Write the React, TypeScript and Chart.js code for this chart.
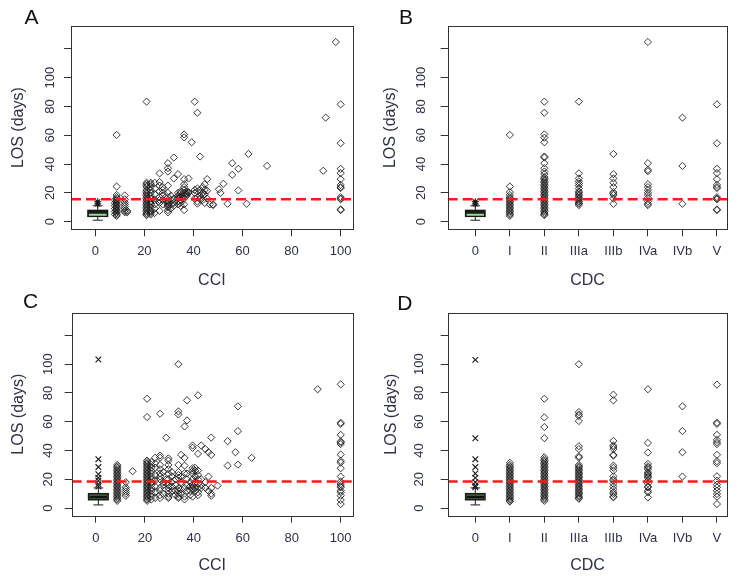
import React, { useEffect, useRef } from 'react';
import { Chart, registerables } from 'chart.js';

Chart.register(...registerables);

const FONT = '"Liberation Sans", Arial, Helvetica, sans-serif';
const TEXT = '#2d3047';
const AXIS = '#333333';

// ---------- Data: panel A (CCI, first cohort) ----------
const A_CCI = [8.0, 8.7, 12.0, 13.0, 20.9, 22.6, 24.2, 26.2, 27.5, 29.6, 30.8, 32.0, 33.7, 34.8, 36.2, 37.2, 38.0, 39.3, 40.5, 41.6, 42.7, 43.8, 44.6, 45.6, 46.7, 48.0, 50.4, 51.0, 52.2, 53.9, 55.8, 58.3, 61.7, 62.4, 70.0, 92.9, 93.9, 98.0, 100];
const A_LOS_BY_CCI: number[][] = [
  [5, 7, 9, 11, 13, 15],
  [4, 5, 6, 7, 8, 9, 10, 11, 12, 13, 14, 15, 16, 17, 18.5, 24.4, 60.2],
  [6.5, 7.5, 9, 10.5, 12, 13.5, 15.5, 18.2],
  [6.5, 7.5],
  [4.5, 5, 6, 7, 8, 9, 10, 11, 12, 13, 14, 15, 16, 17, 18, 19, 20, 21, 22, 24, 25, 26, 27, 83.3],
  [5, 6, 7, 8, 10, 12, 13, 14, 16, 18, 20, 22, 24, 26, 27],
  [6, 9, 12, 15, 19, 23, 27],
  [7.5, 13, 15, 17, 21, 25, 27.5, 33.5],
  [12, 15, 18, 20, 22, 24],
  [6.5, 8, 10, 11, 12, 13, 14, 15, 17, 20, 25, 34.8, 37.1, 40.6],
  [9, 12, 15, 18],
  [11, 13, 16, 30, 44.5],
  [12, 14, 16, 17, 18, 20, 33],
  [11, 13, 15, 17, 18, 20, 21],
  [8, 12, 16, 18, 20, 22, 24, 26, 29.5, 58.5, 60.5],
  [18, 19, 20, 21],
  [20, 20.5, 30],
  [55.1],
  [16, 20, 22, 83.3],
  [12.5, 14, 17, 21, 23, 75.6],
  [16, 18, 22, 45.2],
  [15, 18, 20, 24],
  [13, 19, 22, 26],
  [16, 21.5, 29.5],
  [12],
  [11.5, 12],
  [22.5],
  [20],
  [26.3],
  [12.4],
  [32.5, 40.6],
  [21.7, 36.7],
  [12.4],
  [47],
  [38.7],
  [35.3],
  [72.2],
  [124.7],
  [8, 8.5, 15.5, 16, 17, 23.3, 24, 25.5, 29.5, 33.7, 36.7, 54.4, 81.4],
];

// ---------- Data: panel B (CDC, first cohort) ----------
const CDC_LABELS = ['0', 'I', 'II', 'IIIa', 'IIIb', 'IVa', 'IVb', 'V'];
const B_LOS_BY_CDC: number[][] = [
  [],
  [4, 5, 6, 7, 8, 9, 10, 11, 12, 13, 14, 15, 16, 17, 18.5, 20.5, 24.4, 60.2],
  [4.5, 5, 6, 7, 8, 9, 10, 11, 12, 13, 14, 15, 16, 17, 18, 19, 20, 21, 22, 23, 24, 25, 26, 27, 28, 29, 30, 31, 33, 34.8, 37.1, 40.6, 44.5, 45.2, 55.1, 58.3, 60.6, 75.6, 83.3],
  [11.5, 12.4, 13, 14, 15, 16, 17, 18, 19, 20, 21, 23, 25, 26.5, 28, 30, 33.5, 83.3],
  [12.4, 16, 18.5, 19.5, 20.5, 24, 27, 30, 33, 47],
  [11.5, 12.4, 14, 16.5, 18.5, 20, 22, 24, 26, 35, 36, 40.6, 124.7],
  [12.4, 38.7, 72.2],
  [8, 8.5, 15.5, 16, 17, 23.3, 24, 25.5, 29.5, 33.7, 36.7, 54.4, 81.4],
];

// ---------- Data: panel C (CCI, second cohort) ----------
const C_CCI = [8.7, 12.2, 15.0, 20.9, 22.6, 24.2, 26.2, 27.5, 28.7, 29.6, 31.0, 32.5, 33.7, 34.8, 36.2, 37.2, 38.5, 39.5, 40.5, 41.7, 43.0, 44.7, 46.0, 47.1, 49.7, 53.8, 57.0, 58.0, 63.6, 90.6, 100];
const C_LOS_BY_CCI: number[][] = [
  [5, 6, 7, 8, 9, 10, 11, 12, 13, 14, 15, 16, 17, 18, 19, 20, 21, 22, 23, 24, 25, 26, 27, 28, 29, 30],
  [8.5, 10, 11.5, 13, 14.5, 18],
  [25.6],
  [5, 6, 7, 8, 9, 10, 11, 12, 13, 14, 15, 16, 17, 18, 19, 20, 21, 22, 23, 24, 25, 26, 27, 28, 29, 30, 31, 32, 33, 63.3, 76],
  [6, 8, 10, 12, 14, 16, 18, 20, 22, 24, 26, 28, 30, 32],
  [7, 11, 15, 19, 23, 28, 31, 35],
  [7, 9, 12, 14, 20, 22, 24, 27, 30, 35, 36.5, 65.6],
  [10, 16, 18, 25],
  [17, 20, 48.9],
  [7, 8, 10, 12, 14, 16, 20, 24, 27, 30, 33, 34.5],
  [12, 15, 18, 22, 25],
  [9, 12, 16, 20],
  [7, 8, 10, 12, 14, 21, 23, 25, 30, 65.1, 67.2, 100],
  [10, 13, 18, 22, 37],
  [6, 8, 14, 24.2, 29.5, 34.9, 56.7],
  [12, 16, 20, 24, 60.9, 74.9],
  [9, 12, 15, 18],
  [8, 13, 14, 16, 20, 24, 26, 27.7, 41.9, 43.5],
  [12, 14, 18, 22, 26, 28],
  [9, 11, 14, 17, 20, 23, 26, 37.7, 78.4],
  [14, 16, 20, 43.5],
  [14, 18, 41],
  [12, 21.9, 38.8],
  [8.5, 10, 14, 37, 49],
  [15.6],
  [29.5, 46.5],
  [38.8],
  [30.2, 53.5, 70.7],
  [34.9],
  [82.6],
  [2.8, 5.6, 8.6, 10.9, 12.1, 14.4, 15.3, 16.7, 18.4, 21.9, 27.7, 31.6, 32.8, 37.2, 44.5, 45.6, 46.3, 50.9, 58.5, 59.3, 86],
];

// ---------- Data: panel D (CDC, second cohort) ----------
const D_LOS_BY_CDC: number[][] = [
  [],
  [4.5, 5, 6, 7, 8, 9, 10, 11, 12, 13, 14, 15, 16, 17, 18, 19, 20, 21, 22, 23, 24, 25, 26, 27, 28, 29, 30, 31.5],
  [5, 6, 7, 8, 9, 10, 11, 12, 13, 14, 15, 16, 17, 18, 19, 20, 21, 22, 23, 24, 25, 26, 27, 28, 29, 30, 31, 32, 33, 34, 35.3, 48.6, 56.3, 63, 76],
  [6.5, 7, 8, 9, 10, 11, 12, 13, 14, 15, 16, 17, 18, 19, 20, 21, 22, 23, 24, 25, 26, 27, 28, 29, 30, 35, 36, 41, 43, 60.5, 64, 65, 66.7, 100],
  [7.5, 8, 9.8, 11, 13, 15, 17, 19, 20, 22, 26, 28, 29.5, 36.5, 37, 41, 42.5, 43.5, 46.7, 74.9, 78.8],
  [7.4, 10.9, 12, 14.4, 15, 17, 19, 21, 22, 23, 24, 25, 27, 28, 29, 30.7, 38.6, 45.3, 82.6],
  [21.9, 38.8, 53.5, 70.7],
  [2.8, 7.9, 9.8, 12.1, 14.4, 16.3, 19, 22.1, 31.2, 32.6, 37, 44.5, 45.8, 47.4, 50.9, 58.5, 59.3, 85.8],
];

// ---------- Box plots of the grade-0 group and reference lines ----------
const BOX_AB = { lower: 1.0, q1: 3.7, median: 4.8, q3: 7.8, upper: 11.0 };
const BOX_CD = { lower: 2.2, q1: 5.8, median: 7.7, q3: 10.0, upper: 14.0 };
const OUTLIERS_A = [12.3, 13.8];
const OUTLIERS_B = [12.3, 13.8];
const OUTLIERS_C = [15, 16.5, 19, 21, 23.5, 28.5, 34, 103.3];
const OUTLIERS_D = [14.5, 15.5, 18, 21, 24, 28.5, 34, 48.5, 103];
const REF_AB = 15.6;
const REF_CD = 18.4;

const Y_TICKS = [0, 20, 40, 60, 80, 100, 120];
const CCI_TICKS = [0, 20, 40, 60, 80, 100];
const CDC_TICKS = [1, 2, 3, 4, 5, 6, 7, 8];
const Y_MIN = -5.3;
const Y_MAX = 135.8;

type Box = { lower: number; q1: number; median: number; q3: number; upper: number };
type Cfg = {
  letter: string;
  left: number; top: number; w: number; h: number;
  area: { l: number; r: number; t: number; b: number };
  xMin: number; xMax: number; xTicks: number[]; xLabel: (v: number) => string; xTitle: string;
  points: { x: number; y: number }[];
  ref: number;
  box: Box; boxX: number; boxHalf: number; boxFill: string; medColor: string; medWidth: number;
  outliers: number[]; outlierStyle: string; outlierRadius: number;
  yPad: number; xPad: number; yTitlePad: number; xTitlePad: number;
  letterX: number; letterY: number;
};

const byCci = (xs: number[], ys: number[][]) => xs.flatMap((x, i) => ys[i].map((y) => ({ x, y })));
const byCdc = (ys: number[][]) => ys.flatMap((col, i) => col.map((y) => ({ x: i + 1, y })));
const cciLabel = (v: number) => String(v);
const cdcLabel = (v: number) => CDC_LABELS[v - 1] ?? '';

const PANELS: Cfg[] = [
  {
    letter: 'A', left: 0, top: 0, w: 369, h: 290,
    area: { l: 71, r: 352.7, t: 26, b: 229.3 },
    xMin: -9.9, xMax: 104.9, xTicks: CCI_TICKS, xLabel: cciLabel, xTitle: 'CCI',
    points: byCci(A_CCI, A_LOS_BY_CCI), ref: REF_AB,
    box: BOX_AB, boxX: 1, boxHalf: 4, boxFill: '#1c1c1c', medColor: '#8fe08f', medWidth: 2,
    outliers: OUTLIERS_A, outlierStyle: 'star', outlierRadius: 3.5,
    yPad: 3.2, xPad: 7.8, yTitlePad: 10.3, xTitlePad: 1,
    letterX: 24.5, letterY: 24.3,
  },
  {
    letter: 'B', left: 369, top: 0, w: 370, h: 290,
    area: { l: 78.7, r: 358.3, t: 26, b: 229.3 },
    xMin: 0.2, xMax: 8.3, xTicks: CDC_TICKS, xLabel: cdcLabel, xTitle: 'CDC',
    points: byCdc(B_LOS_BY_CDC), ref: REF_AB,
    box: BOX_AB, boxX: 1, boxHalf: 0.28, boxFill: '#1c1c1c', medColor: '#8fe08f', medWidth: 2,
    outliers: OUTLIERS_B, outlierStyle: 'star', outlierRadius: 3.5,
    yPad: 8.2, xPad: 7.8, yTitlePad: 14, xTitlePad: 1,
    letterX: 30, letterY: 24.3,
  },
  {
    letter: 'C', left: 0, top: 290, w: 369, h: 291,
    area: { l: 71.7, r: 352.7, t: 22.7, b: 225.7 },
    xMin: -9.9, xMax: 104.9, xTicks: CCI_TICKS, xLabel: cciLabel, xTitle: 'CCI',
    points: byCci(C_CCI, C_LOS_BY_CCI), ref: REF_CD,
    box: BOX_CD, boxX: 1, boxHalf: 4, boxFill: '#4b6b45', medColor: '#111111', medWidth: 2.5,
    outliers: OUTLIERS_C, outlierStyle: 'crossRot', outlierRadius: 4,
    yPad: 5.7, xPad: 7.8, yTitlePad: 10.3, xTitlePad: 7.2,
    letterX: 23, letterY: 18.3,
  },
  {
    letter: 'D', left: 369, top: 290, w: 370, h: 291,
    area: { l: 78.7, r: 358.3, t: 22.7, b: 225.7 },
    xMin: 0.2, xMax: 8.3, xTicks: CDC_TICKS, xLabel: cdcLabel, xTitle: 'CDC',
    points: byCdc(D_LOS_BY_CDC), ref: REF_CD,
    box: BOX_CD, boxX: 1, boxHalf: 0.28, boxFill: '#4b6b45', medColor: '#111111', medWidth: 2.5,
    outliers: OUTLIERS_D, outlierStyle: 'crossRot', outlierRadius: 4,
    yPad: 10.7, xPad: 7.8, yTitlePad: 15, xTitlePad: 7.2,
    letterX: 28.3, letterY: 20,
  },
];

function buildConfig(cfg: Cfg): any {
  const extras = {
    id: 'panelExtras' + cfg.letter,
    afterDatasetsDraw(chart: any) {
      const { ctx } = chart;
      const xs = chart.scales.x;
      const ys = chart.scales.y;
      const cx = xs.getPixelForValue(cfg.boxX);
      const hw = Math.abs(xs.getPixelForValue(cfg.boxX + cfg.boxHalf) - cx);
      const yl = ys.getPixelForValue(cfg.box.lower);
      const y1 = ys.getPixelForValue(cfg.box.q1);
      const ym = ys.getPixelForValue(cfg.box.median);
      const y3 = ys.getPixelForValue(cfg.box.q3);
      const yu = ys.getPixelForValue(cfg.box.upper);
      ctx.save();
      ctx.strokeStyle = '#1a1a1a';
      ctx.lineWidth = 1;
      ctx.beginPath();
      ctx.moveTo(cx, y3); ctx.lineTo(cx, yu);
      ctx.moveTo(cx, y1); ctx.lineTo(cx, yl);
      ctx.moveTo(cx - hw / 2, yu); ctx.lineTo(cx + hw / 2, yu);
      ctx.moveTo(cx - hw / 2, yl); ctx.lineTo(cx + hw / 2, yl);
      ctx.stroke();
      ctx.fillStyle = cfg.boxFill;
      ctx.fillRect(cx - hw, y3, 2 * hw, y1 - y3);
      ctx.lineWidth = 1.5;
      ctx.strokeRect(cx - hw, y3, 2 * hw, y1 - y3);
      ctx.strokeStyle = cfg.medColor;
      ctx.lineWidth = cfg.medWidth;
      ctx.beginPath();
      ctx.moveTo(cx - hw + 1, ym); ctx.lineTo(cx + hw - 1, ym);
      ctx.stroke();
      ctx.restore();
    },
    afterDraw(chart: any) {
      const { ctx, chartArea } = chart;
      ctx.save();
      ctx.strokeStyle = AXIS;
      ctx.lineWidth = 1;
      const l = Math.round(chartArea.left) + 0.5;
      const t = Math.round(chartArea.top) + 0.5;
      const r = Math.round(chartArea.right) + 0.5;
      const b = Math.round(chartArea.bottom) + 0.5;
      ctx.strokeRect(l, t, r - l, b - t);
      ctx.fillStyle = '#111111';
      ctx.font = `21px ${FONT}`;
      ctx.textBaseline = 'alphabetic';
      ctx.textAlign = 'left';
      ctx.fillText(cfg.letter, cfg.letterX, cfg.letterY);
      ctx.restore();
    },
  };

  return {
    type: 'scatter',
    data: {
      datasets: [
        {
          type: 'line',
          data: [{ x: cfg.xMin, y: cfg.ref }, { x: cfg.xMax, y: cfg.ref }],
          borderColor: '#ff1a1a',
          borderWidth: 2.5,
          borderDash: [10, 5],
          pointRadius: 0,
          fill: false,
        },
        {
          data: cfg.outliers.map((y) => ({ x: cfg.boxX, y })),
          pointStyle: cfg.outlierStyle,
          radius: cfg.outlierRadius,
          borderColor: '#1a1a1a',
          backgroundColor: 'transparent',
          borderWidth: 1.1,
        },
        {
          data: cfg.points,
          pointStyle: 'rectRot',
          radius: 3.6,
          borderColor: 'rgba(25,25,25,0.85)',
          backgroundColor: 'transparent',
          borderWidth: 1,
        },
      ],
    },
    options: {
      animation: false,
      responsive: false,
      maintainAspectRatio: false,
      events: [],
      layout: { padding: { top: cfg.area.t, right: cfg.w - cfg.area.r, left: 0, bottom: 0 } },
      plugins: { legend: { display: false }, tooltip: { enabled: false }, title: { display: false } },
      scales: {
        x: {
          type: 'linear',
          min: cfg.xMin,
          max: cfg.xMax,
          afterBuildTicks: (s: any) => { s.ticks = cfg.xTicks.map((v) => ({ value: v })); },
          afterFit: (s: any) => { s.height = cfg.h - cfg.area.b; },
          grid: { drawOnChartArea: false, drawTicks: true, tickLength: 7, color: AXIS, lineWidth: 1 },
          border: { display: false },
          ticks: {
            autoSkip: false, maxRotation: 0, minRotation: 0,
            padding: cfg.xPad,
            color: TEXT,
            font: { family: FONT, size: 13 },
            callback: (v: any) => cfg.xLabel(Number(v)),
          },
          title: {
            display: true, text: cfg.xTitle, color: TEXT,
            font: { family: FONT, size: 16, lineHeight: 1 },
            padding: { top: 0, bottom: cfg.xTitlePad },
          },
        },
        y: {
          type: 'linear',
          min: Y_MIN,
          max: Y_MAX,
          afterBuildTicks: (s: any) => { s.ticks = Y_TICKS.map((v) => ({ value: v })); },
          afterFit: (s: any) => { s.width = cfg.area.l; },
          grid: { drawOnChartArea: false, drawTicks: true, tickLength: 7, color: AXIS, lineWidth: 1 },
          border: { display: false },
          ticks: {
            autoSkip: false, minRotation: 90, maxRotation: 90,
            crossAlign: 'center',
            padding: cfg.yPad,
            color: TEXT,
            font: { family: FONT, size: 13 },
            callback: (v: any) => (Number(v) === 120 ? '' : String(v)),
          },
          title: {
            display: true, text: 'LOS (days)', color: TEXT,
            font: { family: FONT, size: 16, lineHeight: 1 },
            padding: { top: cfg.yTitlePad, bottom: 0 },
          },
        },
      },
    },
    plugins: [extras],
  };
}

function Panel({ cfg }: { cfg: Cfg }) {
  const ref = useRef<HTMLCanvasElement>(null);
  useEffect(() => {
    if (!ref.current) return;
    const chart = new Chart(ref.current, buildConfig(cfg));
    return () => chart.destroy();
  }, [cfg]);
  return (
    <canvas
      ref={ref}
      width={cfg.w}
      height={cfg.h}
      style={{ position: 'absolute', left: cfg.left, top: cfg.top, width: cfg.w, height: cfg.h }}
    />
  );
}

export default function App() {
  return (
    <div style={{ position: 'absolute', left: 0, top: 0, width: 739, height: 581, background: '#ffffff', overflow: 'hidden' }}>
      {PANELS.map((p) => (
        <Panel key={p.letter} cfg={p} />
      ))}
    </div>
  );
}
